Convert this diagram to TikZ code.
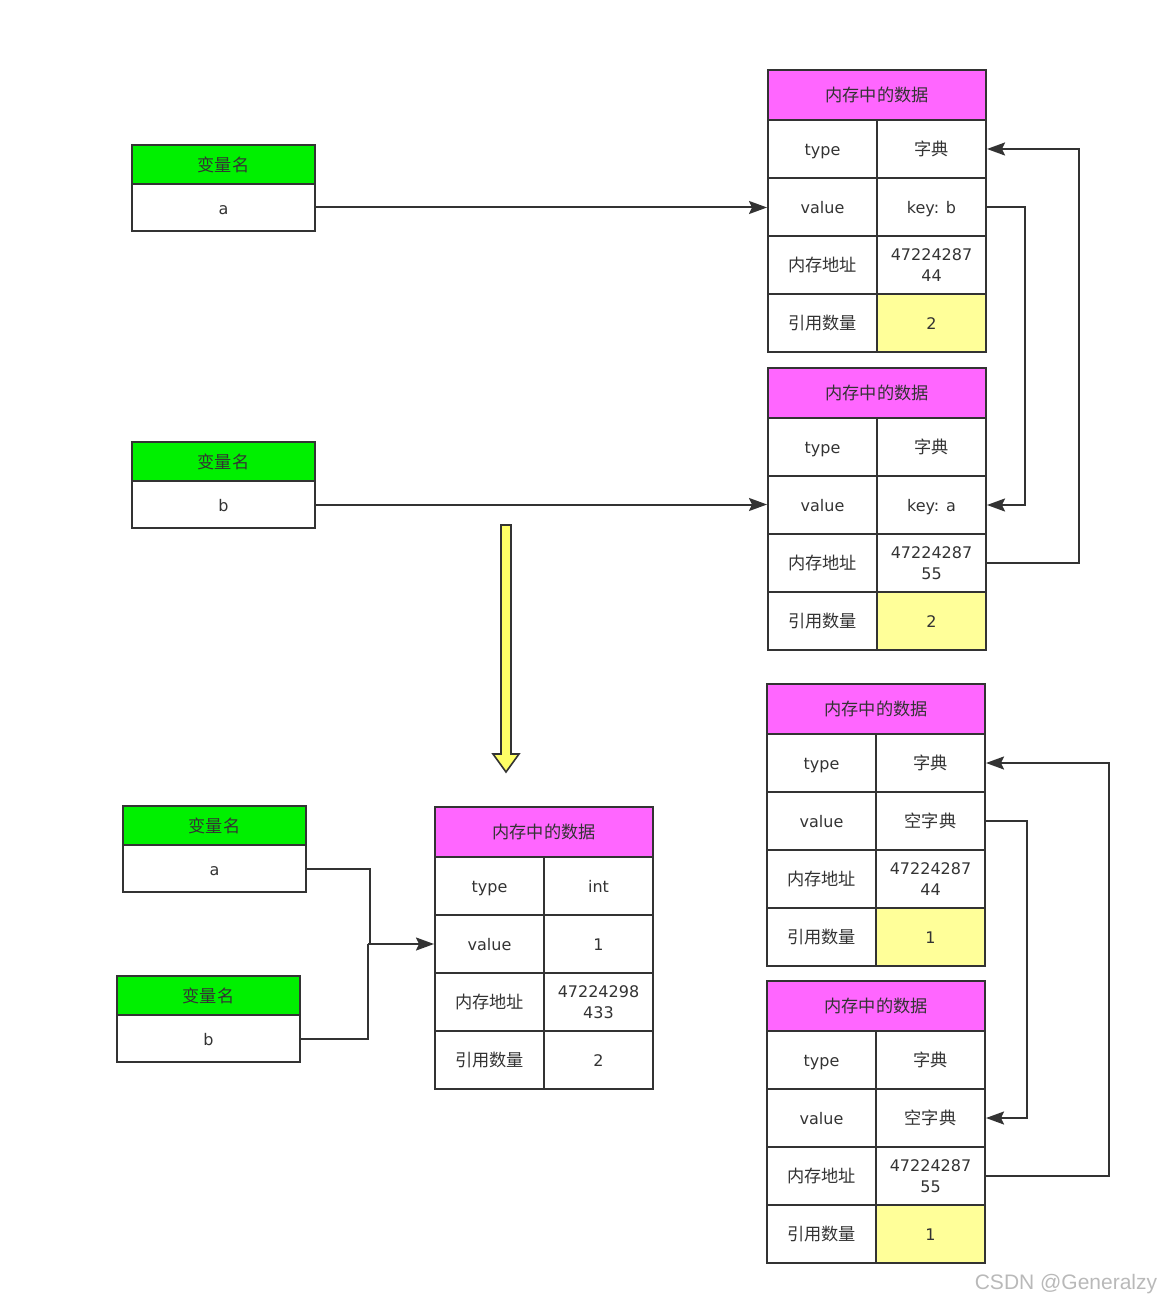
\documentclass[tikz,border=0pt]{standalone}
\usepackage{fontspec}
\setmainfont{DejaVu Sans}
\newfontfamily\cjk{Noto Sans CJK SC}
\newfontfamily\wmfont{Liberation Sans}
\usetikzlibrary{arrows.meta}
\definecolor{hdrpink}{HTML}{FF66FF}
\definecolor{vargreen}{HTML}{00F000}
\definecolor{cntyellow}{HTML}{FFFF99}
\definecolor{bigyellow}{HTML}{FFFF66}
\definecolor{edgegray}{HTML}{333333}
\newcommand\zhtext[1]{{\cjk\fontsize{8.6}{10.5}\selectfont #1}}
\tikzset{cell/.style={draw=edgegray,line width=1pt,minimum width=54.5pt,minimum height=29pt,inner sep=0pt,align=center,
    text height=1.55ex,text depth=0.35ex,text=black!80,font=\fontsize{8}{10.5}\selectfont},
  addr/.style={cell,text height={},text depth={}},
  hdr/.style={cell,fill=hdrpink,minimum width=109pt,minimum height=25pt,font=\cjk\fontsize{8.6}{10}\selectfont},
  cnt/.style={cell,fill=cntyellow},
  varhdr/.style={cell,fill=vargreen,minimum width=91.5pt,minimum height=19.5pt,font=\cjk\fontsize{8.6}{10}\selectfont},
  varbody/.style={cell,minimum width=91.5pt,minimum height=23.5pt},
  link/.style={draw=edgegray,line width=1pt},
  tip/.style={-{Stealth[length=9pt,width=6.5pt,inset=1.5pt]}}}
% #1 name, #2 left, #3 top, #4 type, #5 value, #6 address, #7 count, #8 count style
\newcommand\memtable[8]{%
  \node[hdr] (#1h) at ({#2+109},{#3+25}) {内存中的数据};
  \node[cell] (#1k1) at ({#2+54.5},{#3+79}) {type};
  \node[cell] (#1v1) at ({#2+163.5},{#3+79}) {#4};
  \node[cell] (#1k2) at ({#2+54.5},{#3+137}) {value};
  \node[cell] (#1v2) at ({#2+163.5},{#3+137}) {#5};
  \node[cell] (#1k3) at ({#2+54.5},{#3+195}) {\zhtext{内存地址}};
  \node[addr] (#1v3) at ({#2+163.5},{#3+195}) {#6};
  \node[cell] (#1k4) at ({#2+54.5},{#3+253}) {\zhtext{引用数量}};
  \node[#8] (#1v4) at ({#2+163.5},{#3+253}) {#7};
}
% #1 name, #2 left, #3 top, #4 variable
\newcommand\varbox[4]{%
  \node[varhdr] (#1h) at ({#2+91.5},{#3+19.5}) {变量名};
  \node[varbody] (#1b) at ({#2+91.5},{#3+62.5}) {#4};
}
\begin{document}
\begin{tikzpicture}[x=0.5pt,y=-0.5pt]
    \useasboundingbox (0,0) rectangle (1159,1304);
    % before: a and b point at each other
    \varbox{a1}{132}{145}{a}
    \varbox{b1}{132}{442}{b}
    \memtable{t1}{768}{70}{\zhtext{字典}}{key: b}{47224287\\44}{2}{cnt}
    \memtable{t2}{768}{368}{\zhtext{字典}}{key: a}{47224287\\55}{2}{cnt}
    \draw[link,tip] (a1b.east) -- (a1b.east -| t1k2.west);
    \draw[link,tip] (b1b.east) -- (b1b.east -| t2k2.west);
    \draw[link,tip] (t1v2.east) -- ++(38,0) |- (t2v2.east);
    \draw[link,tip] (t2v3.east) -- ++(92,0) |- (t1v1.east);
    % big arrow
    \filldraw[fill=bigyellow,draw=edgegray,line width=0.8pt] (501,525) -- (511,525) -- (511,754) -- (519,754)
      -- (506,772) -- (493,754) -- (501,754) -- cycle;
    % after: both names on one int
    \varbox{a2}{123}{806}{a}
    \varbox{b2}{117}{976}{b}
    \memtable{t0}{435}{807}{int}{1}{47224298\\433}{2}{cell}
    \coordinate (fork) at (368,944);
    \draw[link] (a2b.east) -| ([xshift=1pt]fork) (b2b.east) -| (fork);
    \draw[link,tip] (fork) -- (t0k2.west);
    % the two empty dicts
    \memtable{t3}{767}{684}{\zhtext{字典}}{\zhtext{空字典}}{47224287\\44}{1}{cnt}
    \memtable{t4}{767}{981}{\zhtext{字典}}{\zhtext{空字典}}{47224287\\55}{1}{cnt}
    \draw[link,tip] (t3v2.east) -- ++(41,0) |- (t4v2.east);
    \draw[link,tip] (t4v3.east) -- ++(123,0) |- (t3v1.east);
    \node[font=\wmfont\fontsize{10.5}{12}\selectfont,text=gray!55] (mark) at (1066,1284) {CSDN @Generalzy};
\end{tikzpicture}
\end{document}
